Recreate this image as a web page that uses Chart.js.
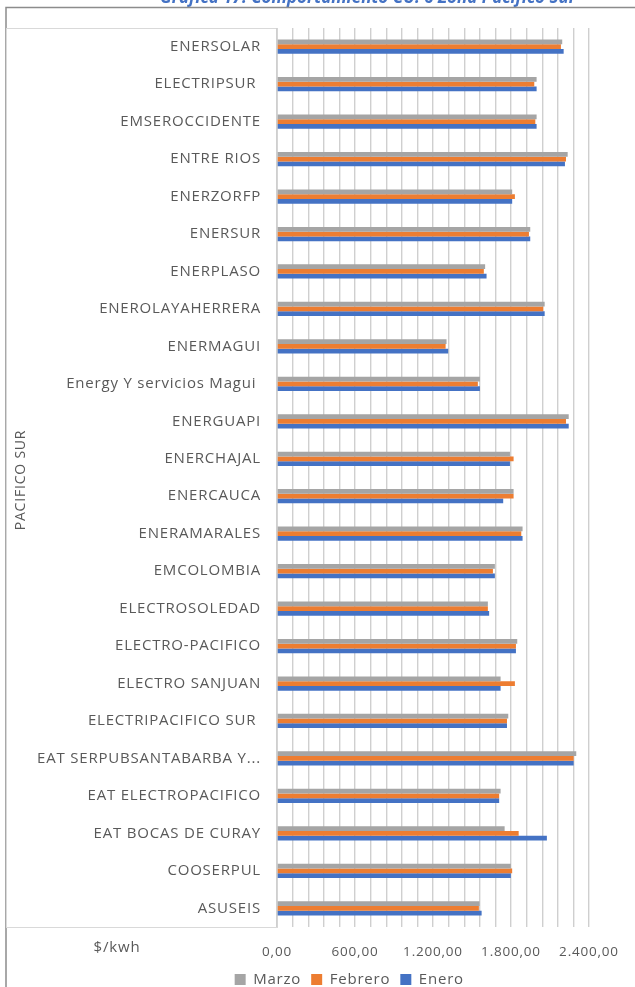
<!DOCTYPE html>
<html>
<head>
<meta charset="utf-8">
<script src="https://cdn.jsdelivr.net/npm/chart.js@4.4.0/dist/chart.umd.min.js"></script>
<style>
  html, body { margin: 0; padding: 0; background: #fff; }
  #wrap { position: relative; width: 635px; height: 987px; }
</style>
</head>
<body>
<div id="wrap"><canvas id="myChart" width="635" height="987"></canvas></div>
<script>
// categories, top to bottom as they appear
var empresas = ['ENERSOLAR', 'ELECTRIPSUR ', 'EMSEROCCIDENTE', 'ENTRE RIOS', 'ENERZORFP', 'ENERSUR',
  'ENERPLASO', 'ENEROLAYAHERRERA', 'ENERMAGUI', 'Energy Y servicios Magui ', 'ENERGUAPI', 'ENERCHAJAL',
  'ENERCAUCA', 'ENERAMARALES', 'EMCOLOMBIA', 'ELECTROSOLEDAD', 'ELECTRO-PACIFICO', 'ELECTRO SANJUAN',
  'ELECTRIPACIFICO SUR ', 'EAT SERPUBSANTABARBA Y...', 'EAT ELECTROPACIFICO', 'EAT BOCAS DE CURAY',
  'COOSERPUL', 'ASUSEIS'];

// $/kwh
var marzo = [2194, 1997, 1997, 2236, 1809, 1948, 1601, 2059, 1304, 1561, 2244, 1792,
  1820, 1889, 1676, 1622, 1848, 1720, 1779, 2302, 1720, 1751, 1799, 1558];
var febrero = [2184, 1979, 1987, 2223, 1830, 1938, 1591, 2048, 1297, 1545, 2223, 1820,
  1820, 1879, 1661, 1622, 1838, 1830, 1769, 2282, 1709, 1859, 1809, 1553];
var enero = [2205, 1997, 1997, 2215, 1809, 1948, 1612, 2059, 1317, 1561, 2244, 1792,
  1740, 1889, 1676, 1632, 1838, 1720, 1769, 2282, 1709, 2076, 1799, 1574];

var ejeMax = 2400;
var ejeMayor = 600;

function formato(v){
	var p = v.toFixed(2).split('.');
	p[0] = p[0].replace(/\B(?=(\d{3})+(?!\d))/g, '.');
	return p[0] + ',' + p[1];
}

var gris = '#595959';
var fuente = '"Open Sans", Lato, sans-serif';
var espacio = '0.8px'; // Excel text looks loosely spaced

var marcos = {
	id: 'marcos',
	beforeInit: function(chart){
		chart.ctx.letterSpacing = espacio;
	},
	afterLayout: function(chart){
		// legend sits right of centre in the original
		var lg = chart.legend;
		lg.left += 48; lg.right += 48;
	},
	beforeDraw: function(chart){
		var ctx = chart.ctx;
		ctx.letterSpacing = espacio;
		ctx.save();
		// title, cut at top of picture
		ctx.fillStyle = '#4472C4';
		ctx.font = 'bold italic 17px ' + fuente;
		ctx.letterSpacing = '0px';
		ctx.textAlign = 'center';
		ctx.textBaseline = 'alphabetic';
		ctx.fillText('Gráfica 17. Comportamiento CU. 6 Zona Pacifico Sur', 368, 3);
		ctx.letterSpacing = espacio;
		// outer frame
		ctx.strokeStyle = '#8c8c8c';
		ctx.lineWidth = 1.5;
		ctx.beginPath();
		ctx.moveTo(6, 987); ctx.lineTo(6, 7.5); ctx.lineTo(635, 7.5);
		ctx.stroke();
		// label box
		ctx.strokeStyle = '#d9d9d9';
		ctx.lineWidth = 1;
		ctx.strokeRect(6.5, 28.5, chart.chartArea.left - 6, chart.chartArea.bottom - 28);
		// axis titles
		ctx.fillStyle = gris;
		ctx.font = '15px ' + fuente;
		ctx.textAlign = 'center';
		ctx.textBaseline = 'middle';
		ctx.fillText('$/kwh', 117, 948);
		ctx.translate(21, 480);
		ctx.rotate(-Math.PI / 2);
		ctx.font = '14px ' + fuente;
		ctx.fillText('PACIFICO SUR', 0, 0);
		ctx.restore();
	}
};

var ctx = document.getElementById('myChart').getContext('2d');
var myChart = new Chart(ctx, {
	type: 'bar',
	data: {
		labels: empresas,
		datasets: [{
			label: 'Marzo',
			data: marzo,
			backgroundColor: '#A5A5A5'
		}, {
			label: 'Febrero',
			data: febrero,
			backgroundColor: '#ED7D31'
		}, {
			label: 'Enero',
			data: enero,
			backgroundColor: '#4472C4'
		}]
	},
	options: {
		indexAxis: 'y',
		responsive: false,
		animation: false,
		maintainAspectRatio: false,
		categoryPercentage: 0.38,
		barPercentage: 1.0,
		layout: { padding: { top: 28, right: 46, left: 0, bottom: -10 } },
		plugins: {
			tooltip: { enabled: false },
			legend: {
				position: 'bottom',
				labels: {
					color: gris,
					font: { family: fuente, size: 15 },
					boxWidth: 11,
					boxHeight: 11,
					padding: 10
				}
			}
		},
		scales: {
			x: {
				min: 0,
				max: ejeMax,
				border: { display: false },
				grid: { color: '#cfcfcf', lineWidth: 1.4, drawTicks: false },
				afterFit: function(s){ s.height = 35; },
				ticks: {
					stepSize: 120,
					autoSkip: false,
					maxRotation: 0,
					padding: 17,
					color: gris,
					font: { family: fuente, size: 13.5 },
					callback: function(v){ return v % ejeMayor === 0 ? formato(v) : ''; }
				}
			},
			y: {
				border: { display: false },
				grid: { display: false, drawTicks: false },
				afterFit: function(s){ s.width = 277; },
				ticks: {
					autoSkip: false,
					padding: 16,
					color: gris,
					font: { family: fuente, size: 15 }
				}
			}
		}
	},
	plugins: [marcos]
});
</script>
</body>
</html>
